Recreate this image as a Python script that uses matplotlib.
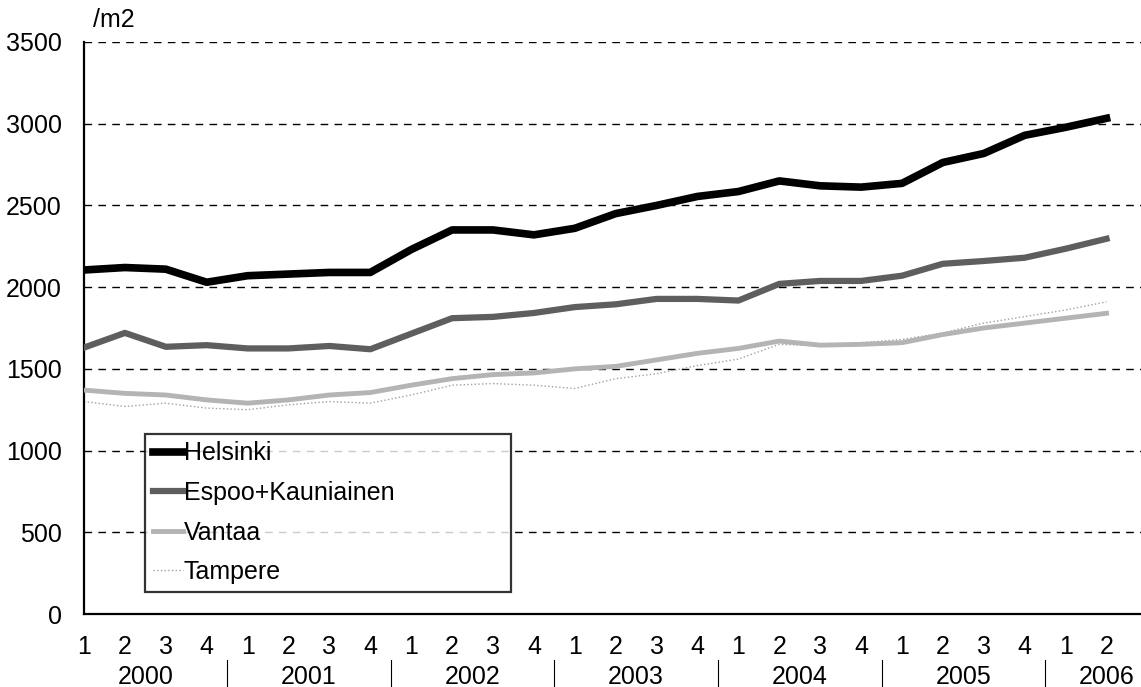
import matplotlib.pyplot as plt

plt.rcParams["font.family"] = ["Liberation Sans", "DejaVu Sans"]

# quarters 2000Q1 .. 2006Q2
quarters = ["1", "2", "3", "4"] * 6 + ["1", "2"]
years = ["2000", "2001", "2002", "2003", "2004", "2005", "2006"]

helsinki = [2105, 2120, 2110, 2030, 2070, 2080, 2090, 2090, 2230, 2350, 2350, 2320, 2360,
            2450, 2500, 2555, 2585, 2650, 2620, 2612, 2635, 2763, 2818, 2929, 2978, 3033]
espoo = [1630, 1720, 1635, 1645, 1625, 1625, 1640, 1620, 1715, 1810, 1818, 1842, 1878,
         1895, 1928, 1928, 1918, 2020, 2038, 2038, 2070, 2143, 2160, 2180, 2235, 2296]
vantaa = [1370, 1350, 1340, 1310, 1290, 1310, 1340, 1355, 1400, 1440, 1465, 1475, 1500,
          1515, 1555, 1595, 1625, 1670, 1645, 1650, 1660, 1710, 1750, 1780, 1810, 1840]
tampere = [1300, 1270, 1290, 1260, 1250, 1280, 1300, 1290, 1340, 1400, 1410, 1400, 1380,
           1440, 1470, 1520, 1560, 1650, 1640, 1660, 1680, 1720, 1780, 1820, 1860, 1910]

x = list(range(len(quarters)))
fs = 18

fig = plt.figure(figsize=(11.41, 6.87), dpi=100)
ax = fig.add_axes([84 / 1141, 1 - 614 / 687, 1 - 84 / 1141, (614 - 42) / 687])

# dashed horizontal grid
for v in range(500, 3501, 500):
    ax.axhline(v, color="black", lw=1, linestyle=(0, (5.5, 4.5)), zorder=1)

ax.plot(x, helsinki, color="black", lw=5.5, label="Helsinki", zorder=4)
ax.plot(x, espoo, color="#5e5e5e", lw=4.5, label="Espoo+Kauniainen", zorder=3)
ax.plot(x, vantaa, color="#b4b4b4", lw=3.5, label="Vantaa", zorder=3)
ax.plot(x, tampere, color="#a0a0a0", lw=1, linestyle=":", label="Tampere", zorder=2)

ax.set_xlim(0, (1141 - 84) / 40.9)
ax.set_ylim(0, 3500)
ax.set_yticks(range(0, 3501, 500))
ax.set_xticks(x)
ax.set_xticklabels(quarters)
ax.tick_params(axis="both", length=0, labelsize=fs)
ax.tick_params(axis="y", pad=16)
ax.tick_params(axis="x", pad=15)

for side in ["top", "right"]:
    ax.spines[side].set_visible(False)
for side in ["left", "bottom"]:
    ax.spines[side].set_linewidth(1.6)

# year labels and separators under the quarters
trans = ax.get_xaxis_transform()
for i, yr in enumerate(years):
    xc = 4 * i + 1.5 if i < 6 else 25
    ax.text(xc, -0.11, yr, transform=trans, ha="center", va="center", fontsize=fs)
    if i > 0:
        xs = 4 * i - 0.5
        ax.plot([xs, xs], [-0.08, -0.13], transform=trans, color="black", lw=0.8, clip_on=False)

fig.text(93 / 1141, 1 - 20 / 687, "/m2", fontsize=fs, ha="left", va="center")

leg = ax.legend(loc="upper left", bbox_to_anchor=(145 / 1141, 1 - 589 / 687, (511 - 145) / 1141, (589 - 434) / 687),
                bbox_transform=fig.transFigure, mode="expand", fontsize=fs, frameon=True,
                fancybox=False, edgecolor="black", handlelength=1.2, handletextpad=0.05,
                labelspacing=0.62, borderpad=0.3, borderaxespad=0)
leg.get_frame().set_linewidth(1.6)
leg.set_zorder(10)

fig.savefig("out.png", dpi=100)
